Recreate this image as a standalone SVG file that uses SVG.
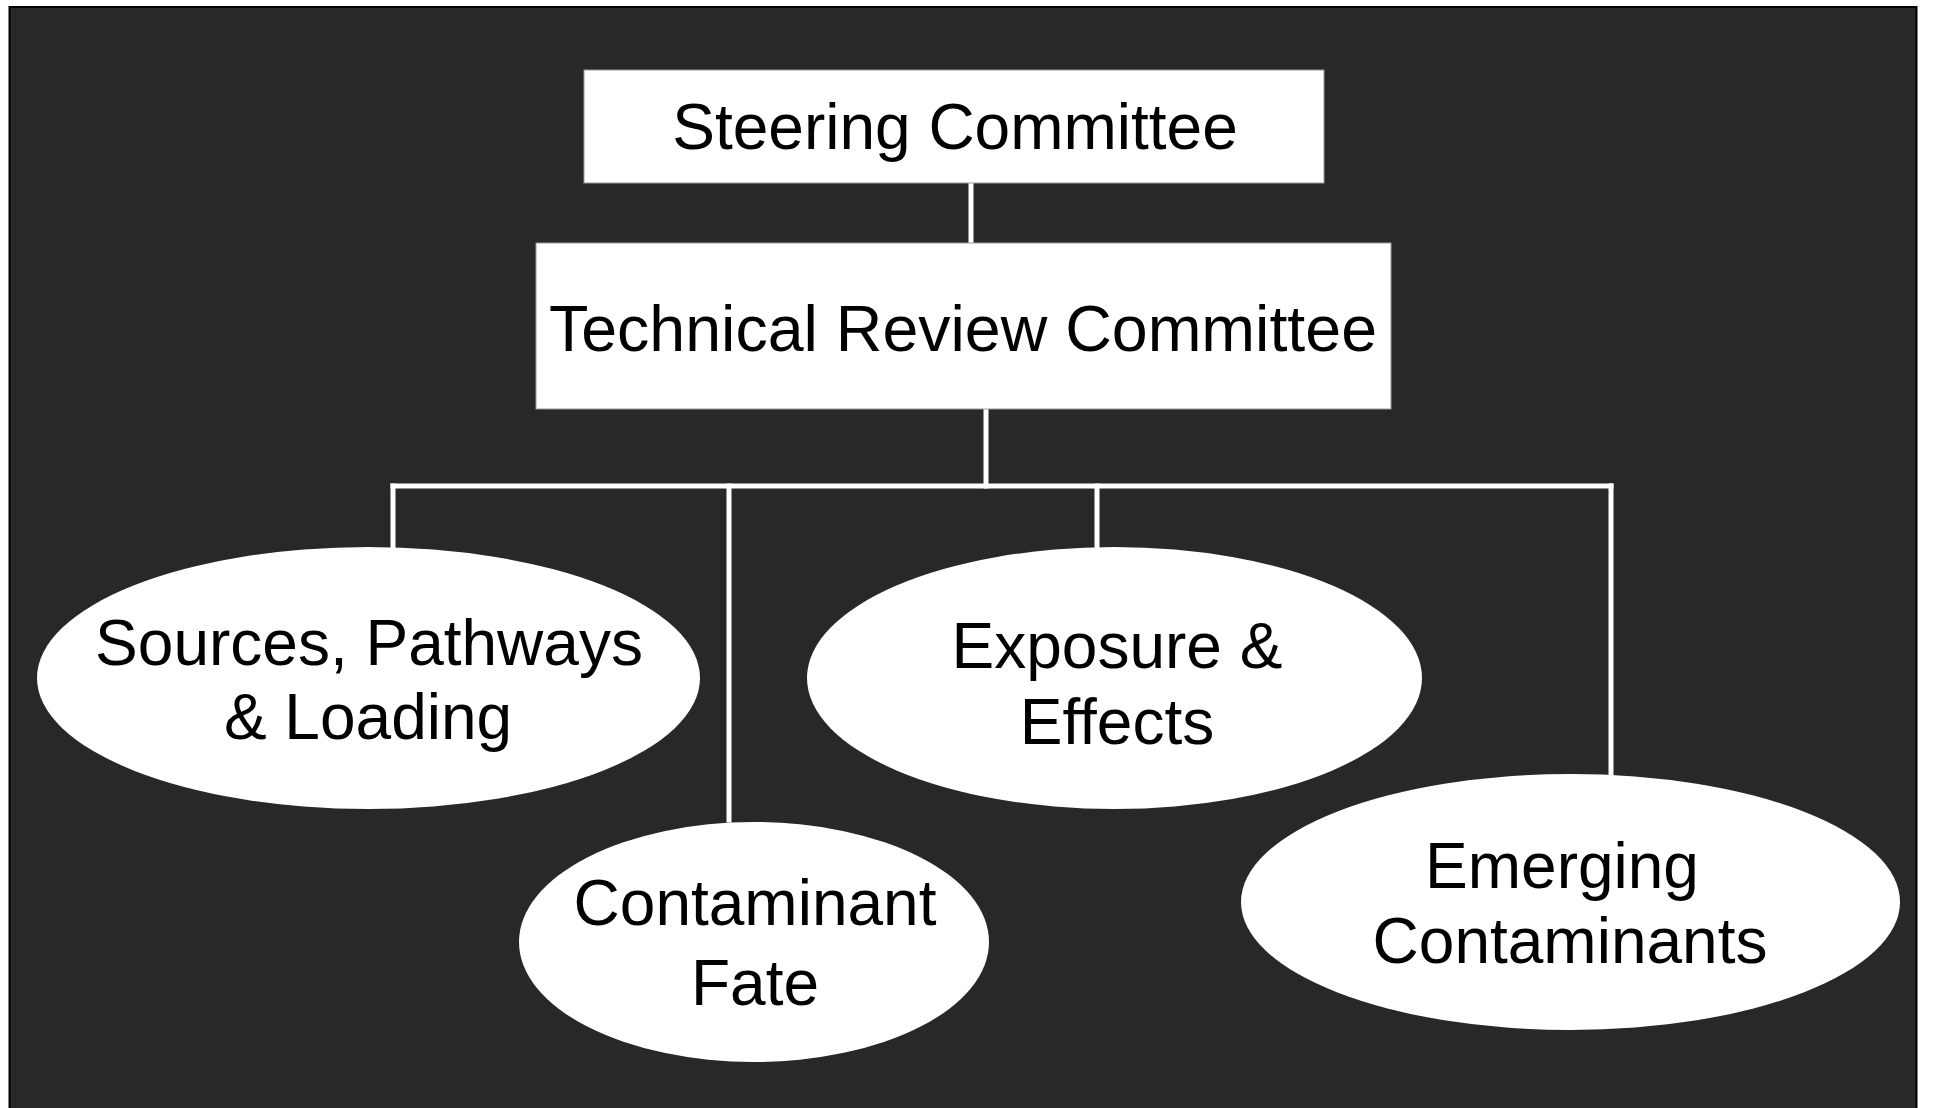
<svg xmlns="http://www.w3.org/2000/svg" width="1937" height="1108" viewBox="0 0 1937 1108">
<style>
.box{fill:#ffffff;stroke:#9a9a9a;stroke-width:1}
.ell{fill:#ffffff}
.lbl{font-family:"Liberation Sans",Arial,sans-serif;font-size:64px;fill:#000000;text-anchor:middle}
.con{stroke:#ffffff;stroke-width:5;fill:none;stroke-linecap:square}
</style>
<rect x="0" y="0" width="1937" height="1108" fill="#ffffff"/>
<rect x="9.5" y="7" width="1907" height="1110" fill="#282828" stroke="#000000" stroke-width="2"/>
<g id="connectors">
<line class="con" x1="971" y1="183" x2="971" y2="243"/>
<line class="con" x1="986" y1="409" x2="986" y2="486"/>
<line class="con" x1="393" y1="486" x2="1611" y2="486"/>
<line class="con" x1="393" y1="486" x2="393" y2="548"/>
<line class="con" x1="729" y1="486" x2="729" y2="820"/>
<line class="con" x1="1097" y1="486" x2="1097" y2="548"/>
<line class="con" x1="1611" y1="486" x2="1611" y2="775"/>
</g>
<g id="steering">
<rect class="box" x="584" y="70" width="740" height="113"/>
<text class="lbl" x="955" y="149">Steering Committee</text>
</g>
<g id="technical">
<rect class="box" x="536" y="243" width="855" height="166"/>
<text class="lbl" x="963" y="351" textLength="828" lengthAdjust="spacingAndGlyphs">Technical Review Committee</text>
</g>
<g id="sources">
<ellipse class="ell" cx="368.5" cy="678" rx="331.5" ry="131"/>
<text class="lbl" x="369" y="665">Sources, Pathways</text>
<text class="lbl" x="368" y="739">&amp; Loading</text>
</g>
<g id="fate">
<ellipse class="ell" cx="754" cy="942" rx="235" ry="120"/>
<text class="lbl" x="755" y="925">Contaminant</text>
<text class="lbl" x="755" y="1005">Fate</text>
</g>
<g id="exposure">
<ellipse class="ell" cx="1114.5" cy="678" rx="307.5" ry="131"/>
<text class="lbl" x="1117" y="668">Exposure &amp;</text>
<text class="lbl" x="1117" y="744">Effects</text>
</g>
<g id="emerging">
<ellipse class="ell" cx="1570.5" cy="902" rx="329.5" ry="128"/>
<text class="lbl" x="1562" y="888">Emerging</text>
<text class="lbl" x="1570" y="963">Contaminants</text>
</g>
</svg>
